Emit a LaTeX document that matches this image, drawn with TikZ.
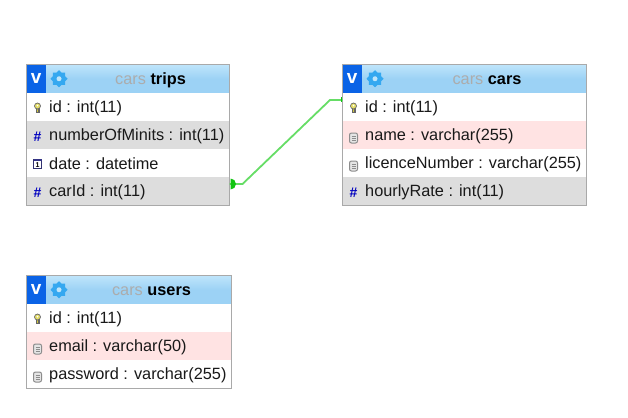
\documentclass[tikz,border=0pt]{standalone}
\usepackage{fontspec}
\usepackage{xcolor}
\setmainfont{Liberation Sans}
\usetikzlibrary{positioning,shapes.geometric}
\definecolor{rowgray}{HTML}{DDDDDD}
\definecolor{rowpink}{HTML}{FFE3E3}
\definecolor{framegray}{HTML}{A9A9A9}
\definecolor{headtop}{HTML}{BFE5FB}
\definecolor{headlow}{HTML}{9CD2F5}
\definecolor{linkgreen}{HTML}{66DD66}
\definecolor{dotgreen}{HTML}{0FC40F}
\definecolor{gearblue}{HTML}{35A8F0}
\definecolor{vblue}{HTML}{0A63E6}
\newcommand{\dbrow}[6]{%
\node[rowband,minimum width=#3pt,fill=#4] (#1) at (#2) {};
\node[rowtext,right=22.5pt of #1.west] (#1-text) {#6};
\pic at ([xshift=11pt]#1.west) {#5};
}
\newcommand{\dbhead}[6]{%
\node[headband,minimum width=#3pt] (#1) at (#2) {};
\node[vbox,right=0pt of #1.west] (#1-v) {v};
\node[gear,right=4.5pt of #1-v.east] (#1-gear) {};
\node[gearhub] (#1-hub) at (#1-gear) {};
\node[title] (#1-title) at (#4,#6) {\textcolor{gray!65}{cars} \textbf{#5}};
}
\begin{document}
\begin{tikzpicture}[x=1pt,y=-1pt]
\tikzset{rowband/.style={rectangle,minimum height=28pt,inner sep=0pt,outer sep=0pt,anchor=north west}}
\tikzset{rowtext/.style={inner sep=0pt,yshift=-1pt,font=\fontsize{16.3}{18}\selectfont,text=black!90}}
\tikzset{headband/.style={rectangle,minimum height=28.5pt,inner sep=0pt,outer sep=0pt,anchor=north west,top color=headtop,bottom color=headlow,middle color=headlow}}
\tikzset{vbox/.style={rectangle,minimum width=19.5pt,minimum height=28.5pt,inner sep=0pt,outer sep=0pt,text=white,fill=vblue,font=\fontsize{19}{19}\selectfont\bfseries}}
\tikzset{gear/.style={star,star points=8,star point ratio=1.3,fill=gearblue,minimum size=17pt,inner sep=0pt,outer sep=0pt}}
\tikzset{gearhub/.style={circle,fill=headtop,minimum size=5pt,inner sep=0pt}}
\tikzset{title/.style={inner sep=0pt,font=\fontsize{16.3}{18}\selectfont}}
\tikzset{tableframe/.style={rectangle,draw=framegray,line width=1pt,inner sep=0pt,outer sep=0pt,anchor=north west}}
\tikzset{link/.style={draw=linkgreen,line width=1.8pt}}
\tikzset{pics/keyicon/.style={code={
  \fill[black!60] (-2,0) rectangle (2,6);
  \fill[yellow!40!olive!70] (-.9,0) rectangle (.9,5.4);
  \fill[black!60] (0,-1) circle (3.4);
  \fill[yellow!55!olive!55] (0,-1) circle (2.5);
  \fill[white] (0,-1.4) circle (.9);}}}
\tikzset{pics/hashicon/.style={code={
  \node[inner sep=0pt,text=blue!75!black,font=\fontsize{14}{14}\selectfont\bfseries] at (0,2) {\#};}}}
\tikzset{pics/dateicon/.style={code={
  \draw[blue!30!black!80,fill=white,line width=.9pt] (-4,-4) rectangle (4,5.5);
  \fill[blue!40!black!80] (-4,-4) rectangle (4,-2.3);
  \node[inner sep=0pt,font=\fontsize{7}{7}\selectfont\bfseries] at (0,1.6) {1};}}}
\tikzset{pics/charicon/.style={code={
  \draw[black!45,fill=black!10,rounded corners=2pt,line width=1pt] (-4,-2) rectangle (4,8);
  \draw[black!45,line width=.8pt] (-2,1) -- (2,1) (-2,3) -- (2,3) (-2,5) -- (2,5);}}}

\useasboundingbox (0,0) rectangle (628,417);

\dbhead{tripshead}{26.5,64.5}{203}{150.5}{trips}{80}
\dbrow{tripsid}{26.5,93}{203}{white}{keyicon}{id : int(11)}
\dbrow{tripsmin}{26.5,121}{203}{rowgray}{hashicon}{numberOfMinits : int(11)}
\dbrow{tripsdate}{26.5,149}{203}{white}{dateicon}{date : datetime}
\dbrow{tripscar}{26.5,177}{203}{rowgray}{hashicon}{carId : int(11)}
\node[tableframe,minimum width=203pt,minimum height=141pt] (trips) at (26.5,64.5) {};

\dbhead{carshead}{342.5,64.5}{244}{487}{cars}{80}
\dbrow{carsid}{342.5,93}{244}{white}{keyicon}{id : int(11)}
\dbrow{carsname}{342.5,121}{244}{rowpink}{charicon}{name : varchar(255)}
\dbrow{carslic}{342.5,149}{244}{white}{charicon}{licenceNumber : varchar(255)}
\dbrow{carsrate}{342.5,177}{244}{rowgray}{hashicon}{hourlyRate : int(11)}
\node[tableframe,minimum width=244pt,minimum height=141pt] (cars) at (342.5,64.5) {};

\dbhead{usershead}{26.5,275.5}{205}{151.5}{users}{291}
\dbrow{usersid}{26.5,304}{205}{white}{keyicon}{id : int(11)}
\dbrow{usersmail}{26.5,332}{205}{rowpink}{charicon}{email : varchar(50)}
\dbrow{userspass}{26.5,360}{205}{white}{charicon}{password : varchar(255)}
\node[tableframe,minimum width=205pt,minimum height=113pt] (users) at (26.5,275.5) {};

\coordinate (linkfrom) at ([yshift=7pt]tripscar.east);
\coordinate (linkto) at ([yshift=7pt]carsid.west);
\coordinate[right=13pt of linkfrom] (linkstart);
\coordinate[left=12.5pt of linkto] (linkend);
\draw[link] (linkfrom) -- (linkstart) -- (linkend) -- (linkto);
\fill[dotgreen] ([xshift=1pt]linkfrom) ++(0,5.5) arc (90:-90:5.5) -- cycle;
\fill[dotgreen] ([xshift=-2pt,yshift=-2.5pt]linkto) rectangle ([xshift=-.5pt,yshift=2.5pt]linkto);
\end{tikzpicture}
\end{document}
